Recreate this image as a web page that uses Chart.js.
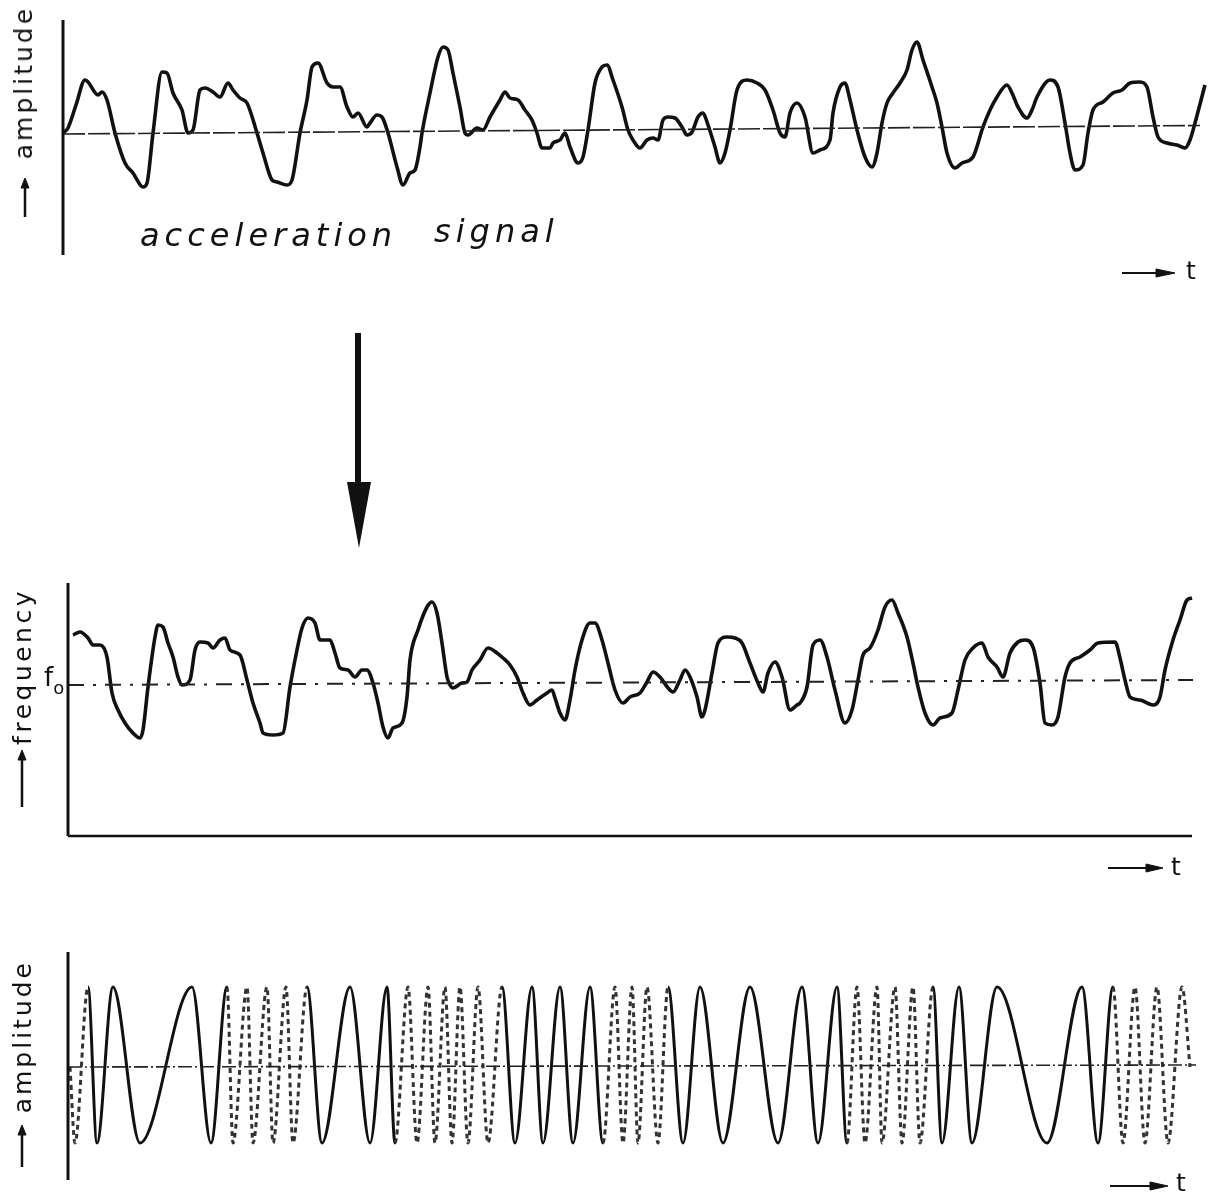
<!DOCTYPE html>
<html>
<head>
<meta charset="utf-8">
<script src="https://cdn.jsdelivr.net/npm/chart.js@4.4.1/dist/chart.umd.min.js"></script>
<style>
  body { margin: 0; background: #fff; }
  #wrap { position: relative; width: 1217px; height: 1199px; overflow: hidden; }
  canvas { position: absolute; left: 0; }
  .lbl { position: absolute; color: #111; font-family: "DejaVu Sans", sans-serif; white-space: nowrap; }
  .vert { writing-mode: vertical-rl; transform: rotate(180deg); font-size: 25px; line-height: 28px; }
  .hand { font-style: italic; font-size: 32px; letter-spacing: 5px; font-weight: 300; }
  .t { font-size: 25px; }
  svg { position: absolute; left: 0; top: 0; }
</style>
</head>
<body>
<div id="wrap">
  <canvas id="chartTop" width="1217" height="290" style="top:0"></canvas>
  <canvas id="chartFreq" width="1217" height="310" style="top:570px"></canvas>
  <canvas id="chartFm" width="1217" height="259" style="top:940px"></canvas>

  <div class="lbl vert" style="left:10px; top:6px; letter-spacing:3px;">amplitude</div>
  <div class="lbl vert" style="left:9px; top:588px; letter-spacing:3.5px;">frequency</div>
  <div class="lbl vert" style="left:9px; top:960px; letter-spacing:3px;">amplitude</div>
  <div class="lbl" style="left:44px; top:662px; font-size:26px;">f<span style="font-size:18px; position:relative; top:8px;">o</span></div>
  <div class="lbl hand" style="left:140px; top:216px;">acceleration</div>
  <div class="lbl hand" style="left:434px; top:212px;">signal</div>
  <div class="lbl t" style="left:1186px; top:256px;">t</div>
  <div class="lbl t" style="left:1171px; top:852px;">t</div>
  <div class="lbl t" style="left:1176px; top:1168px;">t</div>

  <svg width="1217" height="1199">
    <g fill="#111" stroke="#111">
      <line x1="25" y1="217" x2="25" y2="184" stroke-width="2.5"/>
      <polygon points="21,188 25,178 29,188" />
      <line x1="22" y1="807" x2="22" y2="756" stroke-width="2.5"/>
      <polygon points="18,760 22,750 26,760" />
      <line x1="22" y1="1167" x2="22" y2="1131" stroke-width="2.5"/>
      <polygon points="18,1135 22,1125 26,1135" />

      <line x1="1122" y1="273" x2="1164" y2="273" stroke-width="2"/>
      <polygon points="1156,269 1175,273 1156,277" />
      <line x1="1108" y1="868" x2="1152" y2="868" stroke-width="2"/>
      <polygon points="1146,864 1163,868 1146,872" />
      <line x1="1110" y1="1186" x2="1156" y2="1186" stroke-width="2"/>
      <polygon points="1150,1182 1168,1186 1150,1190" />

      <rect x="355" y="333" width="6" height="152" stroke="none"/>
      <polygon points="347,482 371,482 359,548" stroke="none"/>
    </g>
  </svg>
</div>

<script>
// acceleration signal (t, amplitude relative to the zero line)
const topT = [63, 68, 76, 85, 88, 98, 102, 107, 115, 125, 133, 143, 147, 153, 162, 167, 173, 182, 188, 193,
  200, 205, 213, 220, 228, 233, 240, 247, 257, 263, 272, 277, 287, 292, 300, 307, 312, 318, 327, 333,
  340, 347, 353, 358, 367, 370, 377, 382, 388, 397, 403, 410, 415, 420, 422, 430, 438, 443, 448, 453,
  460, 465, 468, 477, 483, 490, 500, 505, 510, 518, 525, 532, 537, 542, 550, 553, 560, 565, 570, 578,
  583, 588, 595, 602, 607, 613, 622, 628, 633, 640, 647, 653, 658, 663, 668, 675, 682, 687, 692, 698,
  703, 708, 715, 720, 725, 730, 737, 747, 757, 765, 773, 780, 785, 790, 797, 805, 813, 820, 830, 833,
  840, 845, 850, 857, 865, 872, 877, 882, 887, 893, 900, 907, 912, 917, 923, 932, 937, 942, 947, 955,
  962, 973, 983, 990, 997, 1007, 1012, 1018, 1027, 1032, 1037, 1050, 1058, 1065, 1070, 1075, 1083, 1088, 1093, 1103,
  1113, 1122, 1130, 1140, 1147, 1153, 1158, 1167, 1177, 1185, 1190, 1195, 1205];
const topA = [0, 5, 28, 53, 51, 38, 41, 33, 0, -30, -40, -54, -50, 0, 61, 60, 40, 23, 0, 3,
  43, 45, 41, 36, 50, 43, 35, 30, 0, -20, -47, -49, -52, -47, 0, 33, 66, 70, 50, 46,
  46, 26, 16, 20, 6, 10, 18, 16, 0, -34, -52, -40, -37, -14, 0, 40, 76, 86, 83, 60,
  26, 0, -2, 5, 3, 16, 33, 41, 35, 33, 23, 13, 0, -15, -15, -10, -7, 0, -14, -30,
  -24, 3, 50, 66, 68, 53, 26, 3, -7, -15, -7, -5, -7, 13, 16, 15, 6, -2, 1, 16,
  20, 8, -14, -30, -20, 3, 43, 53, 50, 43, 23, 0, -4, 20, 30, 16, -20, -17, -7, 20,
  46, 50, 33, 3, -24, -34, -20, 10, 30, 40, 50, 63, 83, 91, 73, 46, 30, 6, -20, -35,
  -30, -24, 6, 23, 36, 48, 40, 26, 15, 23, 36, 53, 46, 10, -20, -37, -32, 0, 23, 31,
  40, 43, 50, 51, 46, 16, -4, -10, -12, -15, -7, 10, 48];
const topZeroT = [63, 1200];
const topZeroA = [-1, 7.5];

// frequency (t, deviation from f0)
const freqT = [73, 80, 88, 93, 100, 107, 112, 118, 125, 132, 140, 143, 148, 155, 158, 163, 168, 173, 178, 182,
  190, 195, 200, 208, 213, 220, 225, 230, 240, 247, 253, 260, 263, 273, 283, 290, 297, 302, 308, 315,
  320, 330, 335, 340, 348, 355, 362, 367, 373, 378, 383, 388, 393, 402, 407, 410, 418, 427, 432, 437,
  442, 447, 450, 453, 462, 467, 472, 480, 488, 497, 503, 510, 517, 523, 530, 537, 547, 552, 555, 560,
  565, 570, 575, 582, 590, 595, 602, 608, 615, 623, 630, 640, 647, 653, 660, 668, 673, 680, 685, 690,
  697, 702, 705, 712, 718, 727, 735, 742, 750, 758, 763, 768, 775, 782, 790, 797, 800, 807, 813, 820,
  827, 835, 845, 852, 858, 863, 870, 878, 885, 892, 898, 907, 913, 918, 925, 933, 940, 952, 958, 965,
  973, 982, 988, 997, 1003, 1010, 1018, 1025, 1033, 1040, 1045, 1052, 1058, 1065, 1070, 1080, 1090, 1098, 1115, 1120,
  1125, 1130, 1140, 1153, 1160, 1165, 1173, 1180, 1187, 1192];
const freqF = [50, 53, 47, 40, 40, 28, -8, -25, -38, -47, -53, -45, -2, 48, 60, 58, 42, 28, 8, 0,
  5, 35, 43, 42, 37, 45, 47, 35, 30, 5, -18, -38, -48, -50, -48, -2, 35, 57, 67, 62,
  45, 45, 32, 17, 15, 8, 15, 15, 2, -18, -42, -53, -43, -38, -12, 25, 55, 78, 83, 72,
  42, 8, 0, -3, 2, 3, 15, 25, 37, 32, 27, 20, 8, -8, -20, -15, -8, -5, -13, -28,
  -35, -15, 15, 45, 62, 62, 45, 22, -5, -18, -12, -8, 3, 13, 8, -3, -7, 5, 15, 8,
  -12, -32, -25, 12, 42, 48, 47, 42, 22, 2, -7, 12, 23, 8, -25, -20, -18, -2, 40, 45,
  28, -5, -38, -25, 5, 30, 37, 55, 78, 85, 72, 48, 22, -2, -28, -40, -33, -28, -5, 25,
  37, 42, 28, 18, 8, 32, 43, 45, 38, 2, -38, -40, -32, 8, 22, 28, 35, 42, 43, 27,
  5, -12, -15, -20, -12, 15, 45, 65, 85, 87];
const f0T = [68, 1193];
const f0F = [0, 5];

// frequency modulated signal: times of crests and troughs
const fmT = [70, 75, 88, 97, 113, 140, 192, 211, 227, 233, 247, 253, 267, 273, 286, 293, 307, 322, 350, 370,
  387, 395, 408, 417, 428, 435, 445, 452, 460, 468, 478, 488, 502, 515, 532, 543, 560, 573, 590, 603,
  615, 623, 632, 638, 647, 658, 668, 683, 700, 723, 750, 778, 802, 818, 837, 847, 857, 865, 877, 882,
  895, 902, 913, 920, 933, 942, 959, 972, 997, 1047, 1082, 1098, 1113, 1123, 1135, 1145, 1157, 1168, 1182, 1190];
const fmA = [0, -76, 80, -76, 80, -76, 80, -76, 80, -76, 80, -76, 80, -76, 80, -76, 80, -76, 80, -76,
  80, -76, 80, -76, 80, -76, 80, -76, 80, -76, 80, -76, 80, -76, 80, -76, 80, -76, 80, -76,
  80, -76, 80, -76, 80, -76, 80, -76, 80, -76, 80, -76, 80, -76, 80, -76, 80, -76, 80, -76,
  80, -76, 80, -76, 80, -76, 80, -76, 80, -76, 80, -76, 80, -76, 80, -76, 80, -76, 80, 0];
const fmZeroT = [68, 1196];
const fmZeroA = [0, 2];

function pts(xs, ys) {
    return xs.map((x, i) => ({ x: x, y: ys[i] }));
}

// axis lines drawn through the chart's own scales
const axisLines = {
    id: 'axisLines',
    afterDatasetsDraw(chart, args, opts) {
        const ctx = chart.ctx;
        const xs = chart.scales.x, ys = chart.scales.y;
        ctx.save();
        ctx.strokeStyle = '#111';
        ctx.lineCap = 'butt';
        if (opts.v) {
            ctx.lineWidth = 3;
            ctx.beginPath();
            ctx.moveTo(xs.getPixelForValue(opts.v[0]), ys.getPixelForValue(opts.v[1]));
            ctx.lineTo(xs.getPixelForValue(opts.v[0]), ys.getPixelForValue(opts.v[2]));
            ctx.stroke();
        }
        if (opts.h) {
            ctx.lineWidth = 2.5;
            ctx.beginPath();
            ctx.moveTo(xs.getPixelForValue(opts.h[1]), ys.getPixelForValue(opts.h[0]));
            ctx.lineTo(xs.getPixelForValue(opts.h[2]), ys.getPixelForValue(opts.h[0]));
            ctx.stroke();
        }
        ctx.restore();
    }
};

function makeChart(id, datasets, yMin, yMax, axes) {
    return new Chart(document.getElementById(id), {
        type: 'line',
        data: { datasets: datasets },
        options: {
            responsive: false,
            animation: false,
            devicePixelRatio: 1,
            layout: { padding: 0 },
            elements: { point: { radius: 0 } },
            plugins: { legend: { display: false }, tooltip: { enabled: false }, axisLines: axes },
            scales: {
                x: { type: 'linear', min: 0, max: 1217, display: false },
                y: { type: 'linear', min: yMin, max: yMax, display: false }
            }
        },
        plugins: [axisLines]
    });
}

const signalStyle = { borderColor: '#111', borderWidth: 3.6, cubicInterpolationMode: 'monotone', fill: false };

makeChart('chartTop', [
    { data: pts(topZeroT, topZeroA), borderColor: '#222', borderWidth: 1.6, borderDash: [22, 3] },
    Object.assign({ data: pts(topT, topA) }, signalStyle)
], -157, 133, { v: [63, 113, -122] });

makeChart('chartFreq', [
    { data: pts(f0T, f0F), borderColor: '#222', borderWidth: 2, borderDash: [16, 9, 3, 9] },
    Object.assign({ data: pts(freqT, freqF) }, signalStyle)
], -195, 115, { v: [68, 102, -151], h: [-151, 68, 1192] });

// fast parts of the FM signal are drawn dotted, as in the original
function fastPart(ctx) {
    const i = ctx.p0DataIndex;
    const a = fmT[Math.max(i - 1, 0)], d = fmT[Math.min(i + 2, fmT.length - 1)];
    return (d - a) / 3 < 12.5;
}

makeChart('chartFm', [
    { data: pts(fmZeroT, fmZeroA), borderColor: '#222', borderWidth: 1.6, borderDash: [14, 3, 2, 3] },
    {
        data: pts(fmT, fmA), borderColor: '#111', borderWidth: 3, cubicInterpolationMode: 'monotone',
        segment: {
            borderDash: ctx => fastPart(ctx) ? [5, 4] : undefined,
            borderColor: ctx => fastPart(ctx) ? '#333' : undefined
        }
    }
], -132, 127, { v: [68, 115, -113] });
</script>
</body>
</html>
